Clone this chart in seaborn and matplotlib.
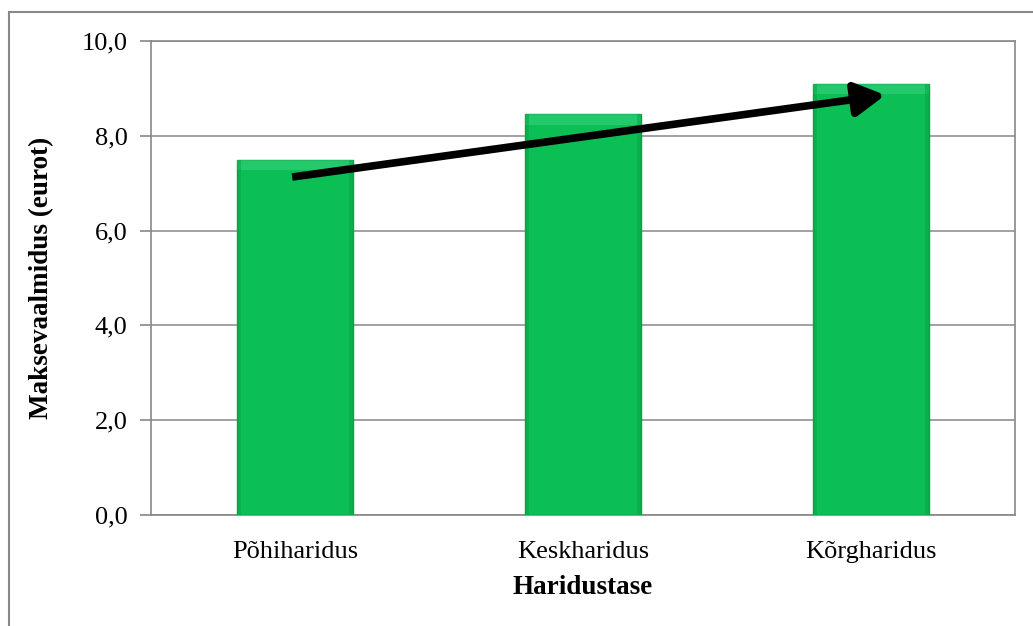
import matplotlib
matplotlib.use("Agg")
import matplotlib.pyplot as plt
import seaborn as sns
import pandas as pd
from matplotlib.patches import Rectangle

categories = ["Põhiharidus", "Keskharidus", "Kõrgharidus"]
values = [7.5, 8.45, 9.1]
y_ticks = [0, 2, 4, 6, 8, 10]
y_tick_labels = ["0,0", "2,0", "4,0", "6,0", "8,0", "10,0"]
# trend arrow: (category position, value) at tail and head
arrow_tail = (-0.01, 7.13)
arrow_head = (2.05, 8.86)

sns.set_theme(style="white")
plt.rcParams["font.family"] = ["Liberation Serif", "DejaVu Serif"]
plt.rcParams["text.color"] = "black"
plt.rcParams["axes.labelcolor"] = "black"
plt.rcParams["xtick.labelcolor"] = "black"
plt.rcParams["ytick.labelcolor"] = "black"

df = pd.DataFrame({"Haridustase": categories, "Maksevaalmidus": values})

fig = plt.figure(figsize=(10.33, 6.26), dpi=100)
ax = fig.add_axes([0.1462, 0.1773, 0.8364, 0.7572])

sns.barplot(data=df, x="Haridustase", y="Maksevaalmidus", ax=ax,
            color="#0bbf55", width=0.40, saturation=1,
            edgecolor="#0a9e47", linewidth=1.0, zorder=3)

# soft bevel along the top and sides of each bar
for p in ax.patches[:]:
    x0, w, h = p.get_x(), p.get_width(), p.get_height()
    ax.add_patch(Rectangle((x0, h - 0.22), w, 0.22, facecolor="#35d07a",
                           edgecolor="none", zorder=3.5, alpha=0.6))
    ax.add_patch(Rectangle((x0, 0), w * 0.035, h, facecolor="#07a447",
                           edgecolor="none", zorder=3.5, alpha=0.5))
    ax.add_patch(Rectangle((x0 + w * 0.965, 0), w * 0.035, h, facecolor="#07a447",
                           edgecolor="none", zorder=3.5, alpha=0.5))

ax.annotate("", xy=arrow_head, xytext=arrow_tail,
            arrowprops=dict(arrowstyle="-|>,head_length=0.9,head_width=0.5",
                            mutation_scale=20, color="black", lw=5.5,
                            shrinkA=0, shrinkB=0, capstyle="butt"),
            zorder=5)

ax.set_ylim(0, 10)
ax.set_xlim(-0.5, 2.5)
ax.set_yticks(y_ticks)
ax.set_yticklabels(y_tick_labels, fontsize=19)
ax.tick_params(axis="x", labelsize=19, length=0, pad=19)
ax.set_xticks([-0.5, 0.5, 1.5, 2.5], minor=True)
ax.tick_params(axis="x", which="minor", length=8, color="#888888", width=1.2,
               direction="out")
ax.tick_params(axis="y", length=8, color="#888888", width=1.2, direction="out",
               left=True, pad=9)
ax.yaxis.grid(True, color="#888888", linewidth=1.1, zorder=0)
ax.set_axisbelow(True)
for s in ax.spines.values():
    s.set_color("#888888")
    s.set_linewidth(1.2)

ax.set_xlabel("Haridustase", fontsize=19.5, fontweight="bold", labelpad=8)
ax.set_ylabel("Maksevaalmidus (eurot)", fontsize=19.5, fontweight="bold", labelpad=20)

# outer chart frame
fig.patches.append(Rectangle((9 / 1033, -0.05), 1.1, 1 - 12 / 626 + 0.05,
                             transform=fig.transFigure, fill=False,
                             edgecolor="#888888", linewidth=1.5))

fig.savefig("out.png", dpi=100)
